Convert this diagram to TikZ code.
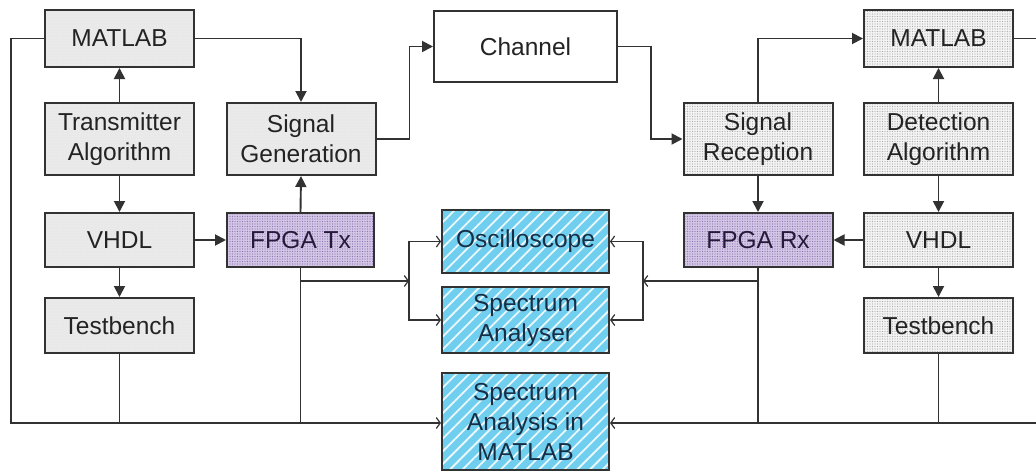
\documentclass[tikz,border=0pt]{standalone}
\usepackage{fontspec}
\setmainfont{Liberation Sans}
\usepackage{xcolor}
\usetikzlibrary{arrows.meta,positioning,calc,patterns,patterns.meta}
\definecolor{EdgeColor}{RGB}{50,50,50}
\definecolor{TextColor}{RGB}{35,35,35}
\definecolor{TxFill}{RGB}{234,234,234}
\definecolor{RxFill}{RGB}{244,244,244}
\definecolor{FpgaFill}{RGB}{212,198,230}
\definecolor{FpgaDots}{RGB}{140,116,178}
\definecolor{FpgaText}{RGB}{38,26,58}
\definecolor{MeasFill}{RGB}{112,206,238}
\definecolor{MeasText}{RGB}{22,46,70}
\tikzset{
  blockbox/.style={draw=EdgeColor, line width=2pt, inner sep=0pt, align=center,
    text=TextColor, minimum width=149pt},
  txbox/.style={blockbox, preaction={fill=TxFill}, pattern={Dots[distance=3pt,radius=0.45pt]}, pattern color=gray!35},
  rxbox/.style={blockbox, preaction={fill=RxFill}, pattern={Dots[distance=2.5pt,radius=0.6pt]}, pattern color=gray!65},
  fpgabox/.style={blockbox, text=FpgaText, preaction={fill=FpgaFill}, pattern={Dots[distance=2.5pt,radius=0.65pt]}, pattern color=FpgaDots},
  measbox/.style={blockbox, text=MeasText, minimum width=167pt, preaction={fill=MeasFill}, pattern={Lines[angle=45,distance=9pt,line width=1.8pt]}, pattern color=white!85!MeasFill},
  chanbox/.style={blockbox, fill=white, minimum width=183pt, minimum height=71pt},
  flow/.style={draw=EdgeColor, line width=1.9pt, -{Triangle[length=11pt,width=11pt]}},
  tap/.style={draw=EdgeColor, line width=1.9pt, -{Straight Barb[length=4pt,width=11pt,line width=1.2pt]}},
  wire/.style={draw=EdgeColor, line width=1.9pt},
}

\begin{document}
\begin{tikzpicture}[x=1pt, y=-1pt, every node/.style={font=\fontsize{24.5}{30}\selectfont}]
      \useasboundingbox (0,0) rectangle (1036,474);

      % transmitter side
      \node[txbox, minimum height=57pt] (mtx) at (119.5,38.5) {MATLAB};
      \node[txbox, minimum height=72pt] (talg) at (119.5,139) {Transmitter\\Algorithm};
      \node[txbox, minimum height=54pt] (vtx) at (119.5,240) {VHDL};
      \node[txbox, minimum height=55pt] (tbtx) at (119.5,325.5) {Testbench};
      \node[txbox, minimum height=72pt] (sgen) at (301,139) {Signal\\Generation};
      \node[fpgabox, minimum height=54pt, minimum width=147pt] (ftx) at (300.5,240) {FPGA Tx};

      % channel and measurement
      \node[chanbox] (chan) at (525.5,46.5) {Channel};
      \node[measbox, minimum height=63pt] (osc) at (525.5,241.5) {Oscilloscope};
      \node[measbox, minimum height=66pt] (spa) at (525.5,320) {Spectrum\\Analyser};
      \node[measbox, minimum height=97pt] (sam) at (525.5,421.5) {Spectrum\\Analysis in\\MATLAB};

      % receiver side
      \node[rxbox, minimum height=72pt] (srx) at (758,139) {Signal\\Reception};
      \node[fpgabox, minimum height=54pt] (frx) at (758,240) {FPGA Rx};
      \node[rxbox, minimum height=57pt] (mrx) at (938.5,38.5) {MATLAB};
      \node[rxbox, minimum height=72pt] (dalg) at (938.5,139) {Detection\\Algorithm};
      \node[rxbox, minimum height=54pt] (vrx) at (938.5,240) {VHDL};
      \node[rxbox, minimum height=55pt] (tbrx) at (938.5,325.5) {Testbench};

      \coordinate (lbus) at (11,423);
      \coordinate (rbus) at (1036,423);
      \coordinate (txjn) at (409,281);
      \coordinate (rxjn) at (643,281);

      % signal chain
      \foreach \a/\b in {talg/vtx,vtx/tbtx,dalg/vrx,vrx/tbrx,srx/frx} {
        \draw[flow] (\a.south) -- (\b.north);
      }
      \foreach \a/\b in {talg/mtx,ftx/sgen,dalg/mrx} {
        \draw[flow] (\a.north) -- (\b.south);
      }
      \draw[flow] (vtx.east) -- (ftx.west);
      \draw[flow] (vrx.west) -- (frx.east);
      \draw[flow] (mtx.east) -| (sgen.north);
      \draw[flow] (sgen.east) -- ++(33,0) |- (chan.west);
      \draw[flow] (chan.east) -- ++(33,0) |- (srx.west);
      \draw[flow] (srx.north) |- (mrx.west);
      \draw[wire] (mrx.east) -- (mrx.east -| rbus);

      % measurement taps
      \draw[tap] (ftx.south |- txjn) -- (txjn);
      \draw[tap] (txjn) |- (osc.west);
      \draw[tap] (txjn) |- (spa.west);
      \draw[tap] (frx.south |- rxjn) -- (rxjn);
      \draw[tap] (rxjn) |- (osc.east);
      \draw[tap] (rxjn) |- (spa.east);

      % bus to spectrum analysis
      \draw[tap] (mtx.west) -| (lbus) -- (lbus -| sam.west);
      \draw[tap] (rbus) -- (rbus -| sam.east);
      \foreach \n in {tbtx,ftx} {
        \draw[wire] (\n.south) -- (\n.south |- lbus);
      }
      \foreach \n in {frx,tbrx} {
        \draw[wire] (\n.south) -- (\n.south |- rbus);
      }
    \end{tikzpicture}
\end{document}
